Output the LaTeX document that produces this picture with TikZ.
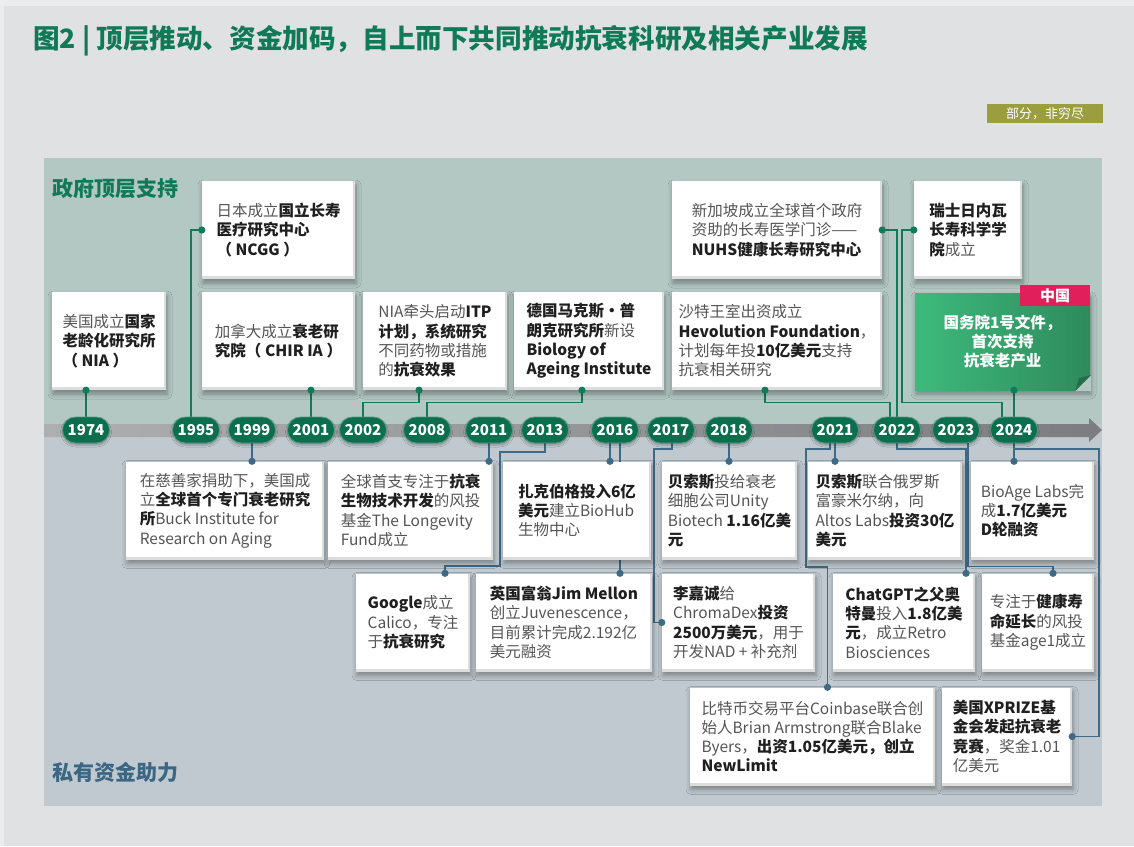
\documentclass[tikz,border=0pt]{standalone}
\usepackage{fontspec}
\setmainfont{Noto Sans CJK SC}
\usetikzlibrary{calc,shadows.blur}

\definecolor{pagebg}{HTML}{E0E1E3}
\definecolor{pageedge}{HTML}{EBECEE}
\definecolor{topband}{HTML}{B3C8C3}
\definecolor{lowband}{HTML}{BFC9CF}
\definecolor{barleft}{HTML}{AEAFB1}
\definecolor{barright}{HTML}{7C7D80}
\definecolor{pillgreen}{HTML}{0B6E4D}
\definecolor{wiregreen}{HTML}{117A58}
\definecolor{wireblue}{HTML}{3E6A85}
\definecolor{titlegreen}{HTML}{0F7A55}
\definecolor{labelblue}{HTML}{3C6782}
\definecolor{tagolive}{HTML}{9A9E3E}
\definecolor{tagred}{HTML}{E1205B}
\definecolor{cnleft}{HTML}{3DBA7C}
\definecolor{cnright}{HTML}{2E8B5C}
\definecolor{cnfold}{HTML}{246F4A}
\definecolor{inkgray}{HTML}{555555}
\definecolor{inkdark}{HTML}{1F1F1F}
\definecolor{cardedge}{HTML}{DCDCDC}

\newcommand{\hl}[1]{\textbf{\color{inkdark}#1}}

\pgfdeclarelayer{back}
\pgfdeclarelayer{wires}
\pgfdeclarelayer{front}
\pgfsetlayers{back,wires,main,front}

\tikzstyle{card}=[rectangle, fill=white, minimum height=98pt, inner sep=0pt, align=left, text=inkgray,
  font=\fontsize{15.5}{19.3}\selectfont,
  blur shadow={shadow xshift=1pt, shadow yshift=-4pt, shadow blur radius=5pt, shadow opacity=35},
  path picture={\fill[cardedge] (path picture bounding box.south west) rectangle ([yshift=3pt]path picture bounding box.south east);
                \fill[cardedge] (path picture bounding box.north east) rectangle ([xshift=-2pt]path picture bounding box.south east);}]
\tikzstyle{pill}=[rectangle, rounded corners=13pt, fill=pillgreen, draw=pillgreen!70!white, line width=0.8pt,
  minimum width=47pt, minimum height=26pt, inner sep=0pt, text=white, font=\fontsize{15}{15}\selectfont\bfseries,
  blur shadow={shadow xshift=0pt, shadow yshift=-2pt, shadow blur radius=2pt, shadow opacity=30}]
\tikzstyle{gline}=[wiregreen, line width=1.6pt]
\tikzstyle{bline}=[wireblue, line width=1.6pt]

\begin{document}
\begin{tikzpicture}[x=1pt, y=-1pt]
\useasboundingbox (0,0) rectangle (1134,846);

\node[anchor=west, inner sep=0pt, text=titlegreen, font=\fontsize{26.6}{26.6}\selectfont\bfseries] (title) at (33,41)
  {图2 | 顶层推动、资金加码，自上而下共同推动抗衰科研及相关产业发展};
\node[fill=tagolive, text=white, font=\fontsize{13}{13}\selectfont, minimum width=116pt, minimum height=19pt, inner sep=0pt] (note) at (1045,113.5) {部分，非穷尽};
\node[anchor=west, inner sep=0pt, text=titlegreen, font=\fontsize{21}{21}\selectfont\bfseries] (govt) at (52,189) {政府顶层支持};
\node[anchor=west, inner sep=0pt, text=labelblue, font=\fontsize{21}{21}\selectfont\bfseries] (priv) at (52,772) {私有资金助力};

% years
\foreach \yr/\x in {1974/86,1995/196,1999/252,2001/311,2002/363,2008/427,2011/489,2013/545,2016/615,2017/671,2018/729,2021/835,2022/897,2023/956,2024/1014}
  \node[pill] (y\yr) at (\x,430) {\yr};

% government side
\node[card, minimum width=114pt] (nia) at (109,341) {美国成立\hl{国家}\\\hl{老龄化研究所}\\\hl{（ NIA ）}};
\node[card, minimum width=153pt] (ncgg) at (278.5,230) {日本成立\hl{国立长寿}\\\hl{医疗研究中心}\\\hl{（ NCGG ）}};
\node[card, minimum width=153pt] (chir) at (278.5,341) {加拿大成立\hl{衰老研}\\\hl{究院（ CHIR IA ）}};
\node[card, minimum width=144pt] (itp) at (435,341) {NIA牵头启动\hl{ITP}\\\hl{计划，系统研究}\\不同药物或措施\\的\hl{抗衰效果}};
\node[card, minimum width=150pt] (mpi) at (589,341) {\hl{德国马克斯・普}\\\hl{朗克研究所}新设\\\hl{Biology of}\\\hl{Ageing Institute}};
\node[card, minimum width=210pt] (sing) at (777,230) {新加坡成立全球首个政府\\资助的长寿医学门诊——\\\hl{NUHS健康长寿研究中心}};
\node[card, minimum width=210pt] (hev) at (777,341) {沙特王室出资成立\\\hl{Hevolution Foundation}，\\计划每年投\hl{10亿美元}支持\\抗衰相关研究};
\node[card, minimum width=108pt] (gen) at (968,230) {\hl{瑞士日内瓦}\\\hl{长寿科学学}\\\hl{院}成立};
\node[card, minimum width=175pt, minimum height=97pt, left color=cnleft, right color=cnright, text=white, align=center,
  font=\fontsize{15.5}{19.3}\selectfont\bfseries, path picture={}] (china) at (1002.5,341.5) {国务院1号文件，\\首次支持\\抗衰老产业};
\fill[topband] (1075,391) -- (1091,391) -- (1091,375) -- cycle;
\fill[cnfold] (1075,391) -- (1091,375) -- (1079,378) -- cycle;
\node[fill=tagred, text=white, font=\fontsize{15}{15}\selectfont\bfseries, minimum width=70pt, minimum height=21pt, inner sep=0pt] (cntag) at (1055,295.5) {中国};

% private side
\node[card, minimum width=198pt] (buck) at (225,510.5) {在慈善家捐助下，美国成\\立\hl{全球首个专门衰老研究}\\\hl{所}Buck Institute for\\Research on Aging};
\node[card, minimum width=165pt] (lfund) at (410.5,510.5) {全球首支专注于\hl{抗衰}\\\hl{生物技术开发}的风投\\基金The Longevity\\Fund成立};
\node[card, minimum width=148pt] (biohub) at (577,510.5) {\hl{扎克伯格投入6亿}\\\hl{美元}建立BioHub\\生物中心};
\node[card, minimum width=135pt] (unity) at (729.5,510.5) {\hl{贝索斯}投给衰老\\细胞公司Unity\\Biotech \hl{1.16亿美}\\\hl{元}};
\node[card, minimum width=154pt] (altos) at (885,510.5) {\hl{贝索斯}联合俄罗斯\\富豪米尔纳，向\\Altos Labs\hl{投资30亿}\\\hl{美元}};
\node[card, minimum width=123pt] (bioage) at (1032.5,510.5) {BioAge Labs完\\成\hl{1.7亿美元}\\\hl{D轮融资}};
\node[card, minimum width=114pt] (google) at (413,622.5) {\hl{Google}成立\\Calico，专注\\于\hl{抗衰研究}};
\node[card, minimum width=176pt] (mellon) at (564,622.5) {\hl{英国富翁Jim Mellon}\\创立Juvenescence，\\目前累计完成2.192亿\\美元融资};
\node[card, minimum width=153pt] (chroma) at (738.5,622.5) {\hl{李嘉诚}给\\ChromaDex\hl{投资}\\\hl{2500万美元}，用于\\开发NAD + 补充剂};
\node[card, minimum width=142pt] (chat) at (904,622.5) {\hl{ChatGPT之父奥}\\\hl{特曼}投入\hl{1.8亿美}\\\hl{元}，成立Retro\\Biosciences};
\node[card, minimum width=112pt] (age) at (1038,622.5) {专注于\hl{健康寿}\\\hl{命延长}的风投\\基金age1成立};
\node[card, minimum width=245pt] (coin) at (812.5,736.5) {比特币交易平台Coinbase联合创\\始人Brian Armstrong联合Blake\\Byers，\hl{出资1.05亿美元，创立}\\\hl{NewLimit}};
\node[card, minimum width=130pt] (xprize) at (1007,736.5) {\hl{美国XPRIZE基}\\\hl{金会发起抗衰老}\\\hl{竞赛}，奖金1.01\\亿美元};

% dot positions
\coordinate (p74) at (y1974 |- nia.south);
\coordinate (p95) at (ncgg.west);
\coordinate (p01) at (y2001 |- chir.south);
\coordinate (p02) at ($(itp.south)+(-16,0)$);
\coordinate (p08) at ($(mpi.south)+(-7,0)$);
\coordinate (psg) at (sing.east);
\coordinate (phev) at ($(hev.south)+(-12,0)$);
\coordinate (pgen) at (gen.west);
\coordinate (pcn) at (y2024 |- china.south);
\coordinate (pbuck) at (y1999 |- buck.north);
\coordinate (plf) at (y2011 |- lfund.north);
\coordinate (pgoo) at ($(google.north)+(32,0)$);
\coordinate (phub) at ($(y2016 |- biohub.north)+(-5,0)$);
\coordinate (pmel) at ($(y2016 |- mellon.north)+(5,0)$);
\coordinate (pchr) at (chroma.west);
\coordinate (puni) at (y2018 |- unity.north);
\coordinate (palt) at (y2021 |- altos.north);
\coordinate (pcoin) at ($(coin.north)+(15,0)$);
\coordinate (pgpt) at ($(chat.north)+(62,0)$);
\coordinate (page) at ($(age.north)+(15,0)$);
\coordinate (pbio) at (y2024 |- bioage.north);
\coordinate (pxp) at (xprize.east);

\begin{pgfonlayer}{wires}
  \draw[gline] (p74) -- (y1974);
  \draw[gline] (p95) -| ($(y1995)+(-5,0)$);
  \draw[gline] (p01) -- (y2001);
  \draw[gline] (p02) |- ($(y2002.north)+(0,-14)$) -- (y2002);
  \draw[gline] (p08) |- ($(y2008.north)+(0,-14)$) -- (y2008);
  \draw[gline] (psg) -| (y2022);
  \draw[gline] (phev) |- ($(y2022.north)+(-7,-14)$) -- ($(y2022)+(-7,0)$);
  \draw[gline] (pgen) -- ++(-12,0) |- ($(y2024.north)+(-12,-14)$) -- ($(y2024)+(-12,0)$);
  \draw[gline] (pcn) -- (y2024);

  \draw[bline] (y1999) -- (pbuck);
  \draw[bline] (y2011) -- (plf);
  \draw[bline] (y2013) -- ++(0,22) -- ++(-45,0) -- ++(0,114) -| (pgoo);
  \draw[bline] ($(y2016)+(-5,0)$) -- (phub);
  \draw[bline] ($(y2016)+(5,0)$) -- (pmel);
  \draw[bline] ($(y2017)+(1,0)$) -- ++(0,19) -| ($(pchr)+(-8,0)$) -- (pchr);
  \draw[bline] (y2018) -- (puni);
  \draw[bline] (y2021) -- (palt);
  \draw[bline] ($(y2021)+(-5,0)$) -- ++(0,19) -- ++(-24,0) -- ++(0,118) -| (pcoin);
  \draw[bline] (y2022) -- ++(0,19) -| (pgpt);
  \draw[bline] ($(y2023)+(12,0)$) |- ($(page)+(0,-7)$) -- (page);
  \draw[bline] (y2024) -- (pbio);
  \draw[bline] (y2024) -- ++(0,19) -| ($(pxp)+(27,0)$) -- (pxp);
\end{pgfonlayer}

\begin{pgfonlayer}{front}
  \foreach \p in {p74,p95,p01,p02,p08,psg,phev,pgen,pcn}
    \fill[wiregreen] (\p) circle (3.6pt);
  \foreach \p in {pbuck,plf,pgoo,phub,pmel,pchr,puni,palt,pcoin,pgpt,page,pbio,pxp}
    \fill[wireblue] (\p) circle (3.6pt);
\end{pgfonlayer}

\begin{pgfonlayer}{back}
  \fill[pageedge] (0,0) rectangle (1134,846);
  \fill[pagebg] (4,6) rectangle (1134,846);
  \fill[topband] (44,158) rectangle (1102,424);
  \fill[lowband] (44,424) rectangle (1102,806);
  \shade[left color=barleft, right color=barright] (44,424) -- (1089,424) -- (1089,418) -- (1102,430) -- (1089,442) -- (1089,437) -- (44,437) -- cycle;
\end{pgfonlayer}
\end{tikzpicture}
\end{document}
